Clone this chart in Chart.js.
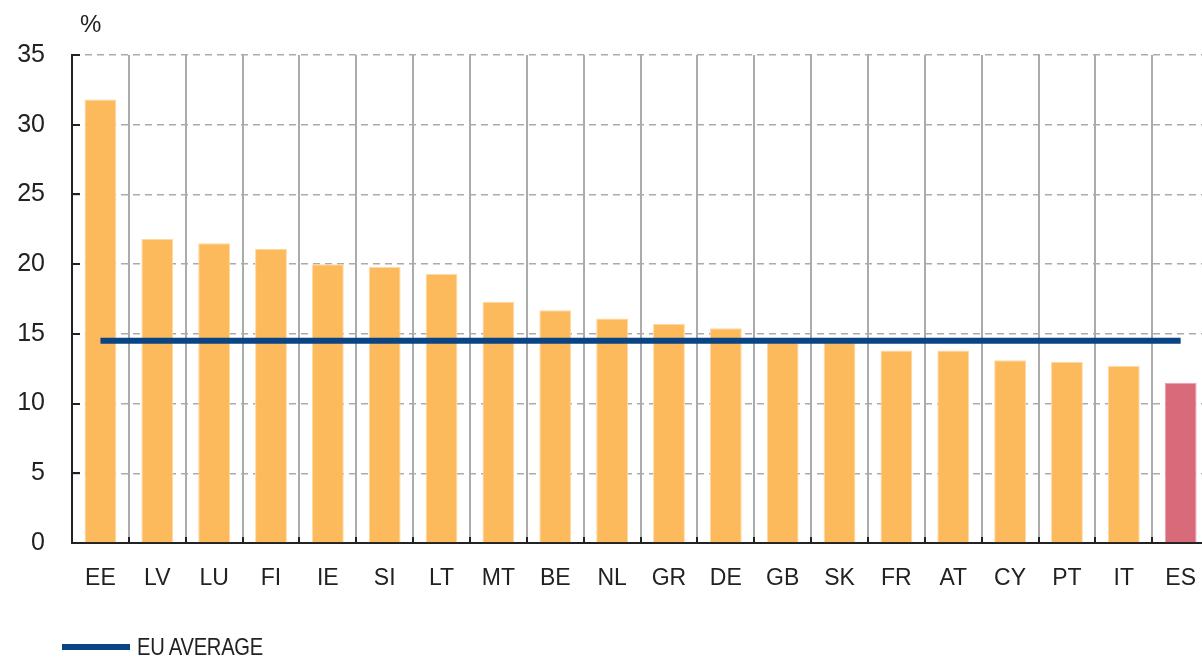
<!DOCTYPE html>
<html>
<head>
<meta charset="utf-8">
<script src="https://cdn.jsdelivr.net/npm/chart.js@4/dist/chart.umd.min.js"></script>
<style>
    html, body { margin: 0; padding: 0; background: #fff; overflow: hidden; }
    #wrap { position: relative; width: 1202px; height: 660px; overflow: hidden; }
    #chart { position: absolute; left: 0; top: 0; }
    #legend {
        position: absolute; left: 62px; top: 633px;
        display: flex; align-items: center;
        font-family: 'Liberation Sans', Arial, sans-serif;
        font-size: 24px; color: #222;
    }
    #legend .swatch { width: 68px; height: 6px; margin-right: 7px; }
    #legend .text { display: inline-block; transform: scaleX(0.84); transform-origin: left center; letter-spacing: -0.3px; }
</style>
</head>
<body>
<div id="wrap">
    <canvas id="chart" width="1218" height="660"></canvas>
    <div id="legend"></div>
</div>
<script>
const countries = ['EE', 'LV', 'LU', 'FI', 'IE', 'SI', 'LT', 'MT', 'BE', 'NL', 'GR', 'DE', 'GB', 'SK', 'FR', 'AT', 'CY', 'PT', 'IT', 'ES'];
const shares = [31.8, 21.8, 21.5, 21.1, 20.0, 19.8, 19.3, 17.3, 16.7, 16.1, 15.7, 15.4, 14.4, 14.4, 13.8, 13.8, 13.1, 13.0, 12.7, 11.5];
const euAverage = [14.5, 14.5, 14.5, 14.5, 14.5, 14.5, 14.5, 14.5, 14.5, 14.5, 14.5, 14.5, 14.5, 14.5, 14.5, 14.5, 14.5, 14.5, 14.5, 14.5];
const yTicks = [0, 5, 10, 15, 20, 25, 30, 35];
const highlight = 'ES';

const ORANGE = '#FDBA5C';
const RED = '#D96A79';
const BLUE = '#0A4485';
const DARK = '#222';
const GRID = '#ABABAB';
const FONT = "'Liberation Sans', Arial, sans-serif";

const barColors = countries.map(c => c === highlight ? RED : ORANGE);
const barEdges = countries.map(c => c === highlight ? '#E8A0A9' : '#FFD9A3');

// inward tick marks + the "%" unit label
const axisDecor = {
    id: 'axisDecor',
    afterDraw(chart) {
        const { ctx, chartArea, scales: { x, y } } = chart;
        ctx.save();
        ctx.strokeStyle = DARK;
        ctx.lineWidth = 2;
        ctx.beginPath();
        yTicks.forEach(v => {
            const py = Math.round(y.getPixelForValue(v));
            ctx.moveTo(chartArea.left, py);
            ctx.lineTo(chartArea.left + 8, py);
        });
        for (let i = 0; i < countries.length; i++) {
            const px = Math.round((x.getPixelForValue(i) + x.getPixelForValue(i + 1)) / 2);
            ctx.moveTo(px, chartArea.bottom);
            ctx.lineTo(px, chartArea.bottom - 6);
        }
        ctx.stroke();

        ctx.fillStyle = DARK;
        ctx.font = '24px ' + FONT;
        ctx.textBaseline = 'middle';
        ctx.fillText('%', chartArea.left + 8, chartArea.top - 30);
        ctx.restore();
    }
};

const chart = new Chart(document.getElementById('chart'), {
    type: 'bar',
    data: {
        labels: countries,
        datasets: [{
            type: 'line',
            label: 'EU AVERAGE',
            data: euAverage,
            borderColor: BLUE,
            backgroundColor: BLUE,
            borderWidth: 6,
            pointRadius: 0,
            order: 0
        }, {
            label: 'Share',
            data: shares,
            backgroundColor: barColors,
            borderColor: barEdges,
            borderWidth: 1,
            barPercentage: 0.56,
            categoryPercentage: 1,
            order: 1
        }]
    },
    options: {
        responsive: false,
        animation: false,
        layout: { padding: { top: 55, right: 0, left: 0, bottom: 57 } },
        plugins: {
            legend: { display: false },
            tooltip: { enabled: false }
        },
        scales: {
            x: {
                offset: true,
                grid: { offset: true, color: GRID, lineWidth: 2, drawTicks: false },
                border: { color: DARK, width: 2 },
                ticks: { color: DARK, font: { family: FONT, size: 23 }, padding: 22 },
                afterFit: s => { s.height = 60; }
            },
            y: {
                min: 0,
                max: 35,
                grid: { color: GRID, lineWidth: 1.5, drawTicks: false },
                border: { color: DARK, width: 2, dash: [7, 5] },
                ticks: { stepSize: 5, color: DARK, font: { family: FONT, size: 25 }, padding: 27 },
                afterFit: s => { s.width = 72; }
            }
        }
    },
    plugins: [axisDecor]
});

// legend for the reference line only
const legendEl = document.getElementById('legend');
chart.data.datasets.filter(d => d.type === 'line').forEach(d => {
    legendEl.innerHTML += `<span class="swatch" style="background:${d.borderColor}"></span><span class="text">${d.label}</span>`;
});
</script>
</body>
</html>
